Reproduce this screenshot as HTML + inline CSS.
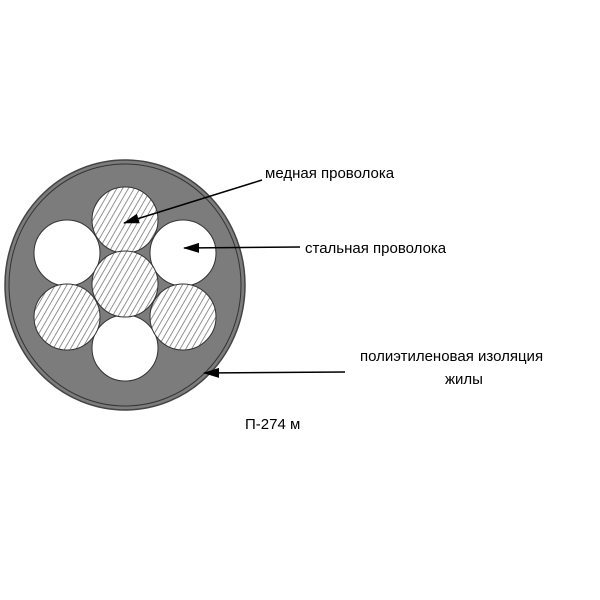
<!DOCTYPE html>
<html><head><meta charset="utf-8"><style>body{margin:0;background:#fff}svg{display:block}</style></head><body>
<svg width="600" height="600" viewBox="0 0 600 600" xmlns="http://www.w3.org/2000/svg" font-family="Liberation Sans, sans-serif" font-size="15">
<defs>
<pattern id="h" width="5" height="5" patternUnits="userSpaceOnUse" patternTransform="rotate(30)">
<rect width="5" height="5" fill="#fff"/><line x1="0" y1="0" x2="0" y2="5" stroke="#777" stroke-width="1.6"/></pattern>
<marker id="a" markerWidth="16" markerHeight="10" refX="15" refY="5" orient="auto" markerUnits="userSpaceOnUse" viewBox="0 0 16 10"><path d="M0,0 L16,5 L0,10z" fill="#000"/></marker>
</defs>
<ellipse cx="125" cy="285" rx="120" ry="125" fill="#7c7c7c" stroke="#444" stroke-width="1.5"/>
<ellipse cx="125" cy="285" rx="116" ry="121" fill="none" stroke="#333" stroke-width="1"/>
<g stroke="#333" stroke-width="1">
<circle cx="67" cy="253" r="33" fill="#fff"/>
<circle cx="183" cy="253" r="33" fill="#fff"/>
<circle cx="125" cy="348" r="33" fill="#fff"/>
<circle cx="125" cy="220" r="33" fill="url(#h)"/>
<circle cx="125" cy="284" r="33" fill="url(#h)"/>
<circle cx="67" cy="317" r="33" fill="url(#h)"/>
<circle cx="183" cy="317" r="33" fill="url(#h)"/>
</g>
<g stroke="#000" stroke-width="1.5" marker-end="url(#a)">
<line x1="262" y1="180" x2="124" y2="223"/>
<line x1="300" y1="247" x2="184" y2="248"/>
<line x1="345" y1="372" x2="204" y2="373"/>
</g>
<text x="265" y="178">медная проволока</text>
<text x="305" y="253">стальная проволока</text>
<text x="360" y="361">полиэтиленовая изоляция</text>
<text x="445" y="384">жилы</text>
<text x="245" y="429">П-274 м</text>
</svg>
</body></html>
